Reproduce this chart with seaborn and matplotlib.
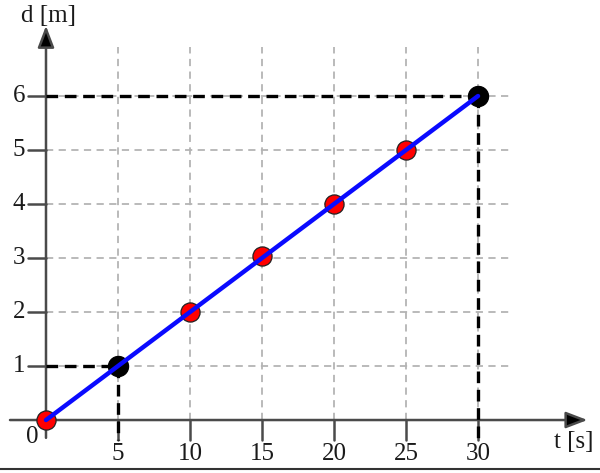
import matplotlib
matplotlib.use("Agg")
import matplotlib.pyplot as plt
from matplotlib.lines import Line2D
import seaborn as sns
import pandas as pd
import numpy as np

sns.set_theme(style="white")
plt.rcParams['font.family'] = ['Liberation Serif', 'DejaVu Serif']

# data
red_t = [0, 10, 15, 20, 25]
red_d = [0, 2, 3.03, 4, 5]
black_t = [5, 30]
black_d = [1, 6]
line_t = [0, 30]
line_d = [0, 6]
x_ticks = [5, 10, 15, 20, 25, 30]
y_ticks = [1, 2, 3, 4, 5, 6]
x_label = "t [s]"
y_label = "d [m]"

fig = plt.figure(figsize=(6.0, 4.73), dpi=100)
ax = fig.add_axes([0, 0, 1, 1])
ax.set_xlim(-3.194, 38.47)
ax.set_ylim(-0.981, 7.778)
ax.axis('off')

grid_kw = dict(color='#b4b4b4', lw=1.3, ls=(0, (4, 3)), zorder=1)
for t in x_ticks:
    ax.plot([t, t], [0, 6.9], **grid_kw)
for d in y_ticks:
    ax.plot([0, 32.4], [d, d], **grid_kw)

axis_col = '#4a4a4a'
# axes with arrows
arrow = dict(arrowstyle='-|>,head_length=1.1,head_width=0.42',
             color=axis_col, lw=1.8, shrinkA=0, shrinkB=0, fc='black')
ax.annotate('', xy=(37.6, 0), xytext=(-2.5, 0), arrowprops=arrow, zorder=3)
ax.annotate('', xy=(0, 7.3), xytext=(0, -0.33), arrowprops=arrow, zorder=3)
for t in x_ticks:
    ax.plot([t, t], [0, -0.37], color=axis_col, lw=1.8, zorder=3)
for d in y_ticks:
    ax.plot([-1.25, 0], [d, d], color=axis_col, lw=1.8, zorder=3)

# black dashed guides
dash_kw = dict(color='black', lw=2.4, ls=(0, (3.5, 2)), zorder=4)
for t, d in zip(black_t, black_d):
    ax.plot([0, t], [d, d], **dash_kw)
    ax.plot([t, t], [d, -0.37], **dash_kw)

txt_col = '#1a1a1a'
fs = 18
for t in x_ticks:
    ax.text(t, -0.42, str(t), ha='center', va='top', fontsize=fs, color=txt_col)
for d in y_ticks:
    ax.text(-1.45, d, str(d), ha='right', va='center', fontsize=fs, color=txt_col)
ax.text(-0.95, -0.31, '0', ha='center', va='center', fontsize=fs, color=txt_col)
ax.text(35.3, -0.41, x_label, ha='left', va='center', fontsize=fs, color=txt_col)
ax.text(0.15, 7.48, y_label, ha='center', va='center', fontsize=fs, color=txt_col)

df_red = pd.DataFrame({'t': red_t, 'd': red_d})
df_black = pd.DataFrame({'t': black_t, 'd': black_d})
df_line = pd.DataFrame({'t': line_t, 'd': line_d})

sns.scatterplot(data=df_red, x='t', y='d', ax=ax, s=190, color='red',
                edgecolor='#222222', linewidth=0.9, zorder=5)
sns.scatterplot(data=df_black, x='t', y='d', ax=ax, s=210, color='black',
                edgecolor='black', linewidth=0.9, zorder=5)
sns.lineplot(data=df_line, x='t', y='d', ax=ax, color='#0a0aff', lw=3.2,
             zorder=6)
ax.axis('off')
ax.set_xlim(-3.194, 38.47)
ax.set_ylim(-0.981, 7.778)

fig.add_artist(Line2D([0, 1], [1 - 469 / 473, 1 - 469 / 473],
                      transform=fig.transFigure, color='#333333', lw=1.5))

fig.savefig('out.png', dpi=100)
